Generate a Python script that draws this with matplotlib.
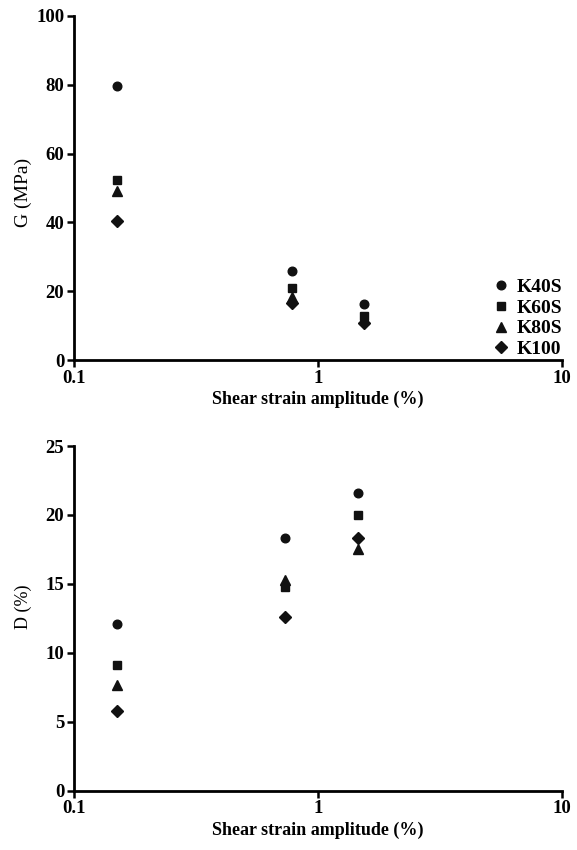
import matplotlib
matplotlib.use("Agg")
import matplotlib.pyplot as plt
from matplotlib.ticker import FixedLocator, FixedFormatter, NullLocator

plt.rcParams['font.family'] = ['Liberation Serif', 'DejaVu Serif']

series = ["K40S", "K60S", "K80S", "K100"]
markers = ["o", "s", "^", "D"]

strain_G = [0.15, 0.78, 1.55]
G_K40S = [79.6, 26.0, 16.3]
G_K60S = [52.3, 21.0, 12.8]
G_K80S = [49.2, 18.3, 12.0]
G_K100 = [40.5, 16.7, 10.8]

strain_D = [0.15, 0.73, 1.46]
D_K40S = [12.1, 18.3, 21.6]
D_K60S = [9.1, 14.8, 20.0]
D_K80S = [7.7, 15.3, 17.5]
D_K100 = [5.8, 12.6, 18.3]

G_all = [G_K40S, G_K60S, G_K80S, G_K100]
D_all = [D_K40S, D_K60S, D_K80S, D_K100]

xticks = [0.1, 1, 10]
xticklabels = ["0.1", "1", "10"]

fig = plt.figure(figsize=(5.77, 8.5), dpi=100)
W, H = 577, 850
ax1 = fig.add_axes([74/W, 1-360/H, (562-74)/W, (360-16)/H])
ax2 = fig.add_axes([74/W, 1-790.7/H, (562-74)/W, (790.7-446)/H])

col = "#111111"
msizes = {"o": 6.2, "s": 6.2, "^": 7.2, "D": 6.5}
for ax in (ax1, ax2):
    ax.set_xscale("log")
    ax.set_xlim(0.1, 10)
    ax.xaxis.set_major_locator(FixedLocator(xticks))
    ax.xaxis.set_major_formatter(FixedFormatter(xticklabels))
    ax.xaxis.set_minor_locator(NullLocator())
    for s in ("top", "right"):
        ax.spines[s].set_visible(False)
    for s in ("left", "bottom"):
        ax.spines[s].set_linewidth(2.0)
    ax.tick_params(axis="both", which="major", length=5, width=1.8, direction="out",
                   labelsize=13.5, pad=2)
    ax.set_xlabel("Shear strain amplitude (%)", fontsize=13, fontweight="bold", labelpad=3)

for name, m, vals in zip(series, markers, G_all):
    ax1.plot(strain_G, vals, linestyle="none", marker=m, color=col, markersize=msizes[m], label=name)
for name, m, vals in zip(series, markers, D_all):
    ax2.plot(strain_D, vals, linestyle="none", marker=m, color=col, markersize=msizes[m], label=name)

ax1.set_ylim(0, 100)
ax1.set_yticks([0, 20, 40, 60, 80, 100])
ax1.set_ylabel("G (MPa)", fontsize=14)
ax1.yaxis.set_label_coords(-0.086, 0.488)
ax2.set_ylim(0, 25)
ax2.set_yticks([0, 5, 10, 15, 20, 25])
ax2.set_ylabel("D (%)", fontsize=13)
ax2.yaxis.set_label_coords(-0.086, 0.533)
for ax in (ax1, ax2):
    for lab in ax.get_xticklabels() + ax.get_yticklabels():
        lab.set_fontweight("bold")

leg = ax1.legend(loc="lower right", frameon=False, handletextpad=0.2,
                 labelspacing=0.15, borderaxespad=0.1, handlelength=1.2,
                 bbox_to_anchor=(1.02, -0.022), prop={"weight": "bold", "size": 14})

fig.savefig("out.png", dpi=100)
